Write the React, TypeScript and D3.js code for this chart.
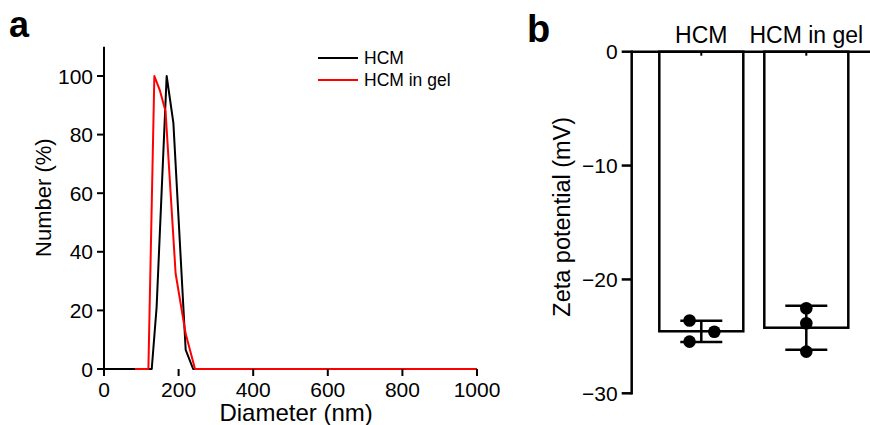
import React from "react";
import * as d3 from "d3";

// Panel a: DLS number distribution
const hcmDiameter = [0, 128, 141, 168, 186, 219, 239, 1000];
const hcmNumber = [0, 0, 21, 100, 84, 6.5, 0, 0];
const gelDiameter = [83, 119, 135, 150, 165, 192, 219, 244, 1000];
const gelNumber = [0, 0, 100, 95, 88, 32.6, 12, 0, 0];
const xTicksA = [0, 200, 400, 600, 800, 1000];
const yTicksA = [0, 20, 40, 60, 80, 100];
const seriesNames = ["HCM", "HCM in gel"];
const seriesColors = ["#000000", "#ff0000"];

// Panel b: zeta potential
const categories = ["HCM", "HCM in gel"];
const hcmZeta = [-23.6, -24.6, -25.46];
const gelZeta = [-22.53, -23.85, -26.34];
const jitterHcm = [-0.14, 0.155, -0.14];
const jitterGel = [0, 0, 0];
const yTicksB = [0, -10, -20, -30];

const FONT = "Arial, 'Liberation Sans', Helvetica, sans-serif";
const fmt = d3.format("d");

export default function App() {
  // Panel a scales
  const xA = d3.scaleLinear().domain([0, 1000]).range([104, 477]);
  const yA = d3.scaleLinear().domain([0, 110]).range([369, 46.7]);
  const line = d3
    .line<[number, number]>()
    .x((d) => xA(d[0]))
    .y((d) => yA(d[1]));
  const hcmPts = hcmDiameter.map((x, i) => [x, hcmNumber[i]] as [number, number]);
  const gelPts = gelDiameter.map((x, i) => [x, gelNumber[i]] as [number, number]);

  // Panel b scales
  const xB = d3
    .scaleBand<string>()
    .domain(categories)
    .range([648.8, 858.8])
    .paddingInner(0.2)
    .paddingOuter(0.1);
  const yB = d3.scaleLinear().domain([-30, 0]).range([393.3, 51.7]);
  const groups = [
    { name: categories[0], vals: hcmZeta, jit: jitterHcm },
    { name: categories[1], vals: gelZeta, jit: jitterGel },
  ];
  const axisXB = 631.7;

  return (
    <div style={{ position: "fixed", left: 0, top: 0 }}>
      <svg width={870} height={425} style={{ display: "block", background: "#fff" }} fontFamily={FONT}>
        {/* ---------- Panel a ---------- */}
        <text x={9} y={37} fontSize={36} fontWeight="bold">a</text>
        {/* series lines */}
        <path d={line(hcmPts) || ""} fill="none" stroke={seriesColors[0]} strokeWidth={2} strokeLinejoin="round" />
        <path d={line(gelPts) || ""} fill="none" stroke={seriesColors[1]} strokeWidth={2} strokeLinejoin="round" />
        {/* axes */}
        <line x1={xA(0)} x2={xA(0)} y1={yA(110)} y2={yA(0) + 1} stroke="#000" strokeWidth={2} />
        {yTicksA.map((t) => (
          <g key={"ya" + t}>
            <line x1={xA(0) - 7} x2={xA(0)} y1={yA(t)} y2={yA(t)} stroke="#000" strokeWidth={2} />
            <text x={xA(0) - 11} y={yA(t)} dy="0.36em" textAnchor="end" fontSize={21}>
              {fmt(t)}
            </text>
          </g>
        ))}
        {xTicksA.map((t) => (
          <g key={"xa" + t}>
            <line x1={xA(t)} x2={xA(t)} y1={yA(0)} y2={yA(0) + 7} stroke="#000" strokeWidth={2} />
            <text x={xA(t)} y={397} textAnchor="middle" fontSize={21}>
              {fmt(t)}
            </text>
          </g>
        ))}
        <text x={xA(515)} y={421} textAnchor="middle" fontSize={24}>
          Diameter (nm)
        </text>
        <text transform={`translate(51,${yA(58.5)}) rotate(-90)`} textAnchor="middle" fontSize={22}>
          Number (%)
        </text>
        {/* legend */}
        {seriesNames.map((n, i) => (
          <g key={"lg" + n}>
            <line x1={318} x2={358} y1={58 + i * 22} y2={58 + i * 22} stroke={seriesColors[i]} strokeWidth={2} />
            <text x={364} y={58 + i * 22} dy="0.36em" fontSize={17.5}>
              {n}
            </text>
          </g>
        ))}

        {/* ---------- Panel b ---------- */}
        <text x={527} y={42} fontSize={38} fontWeight="bold">b</text>
        {groups.map((g) => {
          const m = d3.mean(g.vals) as number;
          const s = d3.deviation(g.vals) as number;
          const bx = xB(g.name) as number;
          const bw = xB.bandwidth();
          const cx = bx + bw / 2;
          return (
            <g key={"bar" + g.name}>
              <rect x={bx} y={yB(0)} width={bw} height={yB(m) - yB(0)} fill="#fff" stroke="#000" strokeWidth={2.5} />
              <line x1={cx} x2={cx} y1={yB(m + s)} y2={yB(m - s)} stroke="#000" strokeWidth={2.5} />
              <line x1={cx - 21} x2={cx + 21} y1={yB(m + s)} y2={yB(m + s)} stroke="#000" strokeWidth={2.5} />
              <line x1={cx - 21} x2={cx + 21} y1={yB(m - s)} y2={yB(m - s)} stroke="#000" strokeWidth={2.5} />
              {g.vals.map((v, i) => (
                <circle key={i} cx={cx + g.jit[i] * bw} cy={yB(v)} r={6.3} fill="#000" />
              ))}
              <line x1={cx} x2={cx} y1={yB(0)} y2={yB(0) + 4} stroke="#000" strokeWidth={2} />
              <text x={cx} y={43} textAnchor="middle" fontSize={23}>
                {g.name}
              </text>
            </g>
          );
        })}
        <line x1={axisXB} x2={870} y1={yB(0)} y2={yB(0)} stroke="#000" strokeWidth={2.5} />
        <line x1={axisXB} x2={axisXB} y1={yB(0) - 1.2} y2={yB(-30) + 1.2} stroke="#000" strokeWidth={2.5} />
        {yTicksB.map((t) => (
          <g key={"yb" + t}>
            <line x1={axisXB - 10} x2={axisXB} y1={yB(t)} y2={yB(t)} stroke="#000" strokeWidth={2.5} />
            <text x={axisXB - 14} y={yB(t)} dy="0.36em" textAnchor="end" fontSize={21}>
              {fmt(t)}
            </text>
          </g>
        ))}
        <text transform={`translate(570,${yB(-14.5)}) rotate(-90)`} textAnchor="middle" fontSize={23.5}>
          Zeta potential (mV)
        </text>
      </svg>
    </div>
  );
}
